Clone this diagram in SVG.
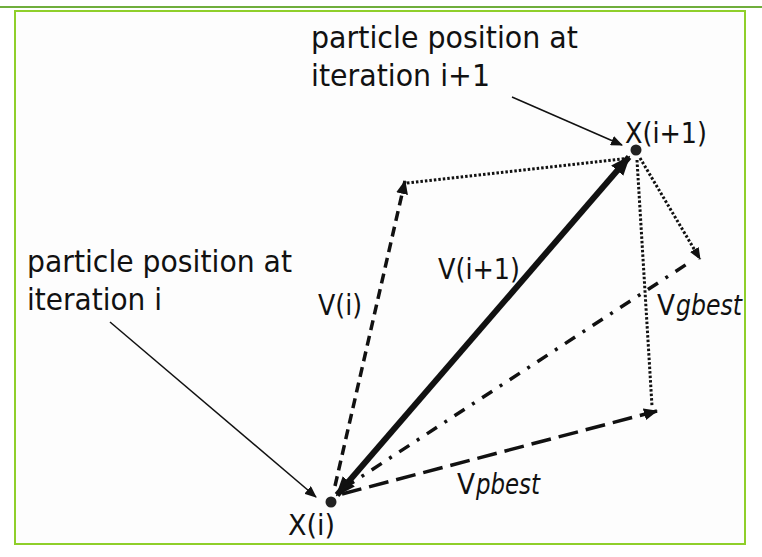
<svg xmlns="http://www.w3.org/2000/svg" width="762" height="557" viewBox="0 0 762 557">
  <style>
    .lbl { font-family: "DejaVu Sans", "Liberation Sans", sans-serif; font-size: 30px; fill: #111; }
    .sym { font-family: "DejaVu Sans", "Liberation Sans", sans-serif; font-size: 28px; fill: #111; }
    .it { font-style: italic; }
    .ln { fill: none; stroke: #111; }
    .dt { fill: none; stroke: #111; stroke-width: 3; stroke-dasharray: 2.5 2; }
    .dot { fill: #222; }
  </style>
  <defs>
    <marker id="ah" markerUnits="userSpaceOnUse" markerWidth="14" markerHeight="12" refX="13" refY="6" orient="auto">
      <path d="M0,0 L14,6 L0,12 Z" fill="#111"/>
    </marker>
    <marker id="ahs" markerUnits="userSpaceOnUse" markerWidth="12" markerHeight="10" refX="11" refY="5" orient="auto">
      <path d="M0,0 L12,5 L0,10 Z" fill="#111"/>
    </marker>
    <marker id="ahb" markerUnits="userSpaceOnUse" markerWidth="20" markerHeight="16" refX="18" refY="8" orient="auto">
      <path d="M0,0 L20,8 L0,16 Z" fill="#111"/>
    </marker>
    <marker id="ahbs" markerUnits="userSpaceOnUse" markerWidth="20" markerHeight="16" refX="2" refY="8" orient="auto">
      <path d="M20,0 L0,8 L20,16 Z" fill="#111"/>
    </marker>
  </defs>

  <rect x="0" y="0" width="762" height="557" fill="#ffffff"/>
  <line x1="0" y1="7" x2="762" y2="7" stroke="#6fae3c" stroke-width="2"/>
  <rect x="15" y="11" width="730" height="533" fill="#fdfdfd" stroke="#8fcf2a" stroke-width="2"/>

  <g id="connectors">
    <line class="ln" x1="512" y1="97" x2="622" y2="145" stroke-width="1.5" marker-end="url(#ahs)"/>
    <line class="ln" x1="110" y1="322" x2="316" y2="497" stroke-width="1.5" marker-end="url(#ahs)"/>
    <line class="ln" x1="335" y1="486" x2="405" y2="181" stroke-width="3.5" stroke-dasharray="10 6" marker-end="url(#ah)"/>
    <line class="dt" x1="407" y1="183" x2="630" y2="158"/>
    <line class="ln" x1="337" y1="495" x2="629" y2="157" stroke-width="6" marker-end="url(#ahb)" marker-start="url(#ahbs)"/>
    <line class="ln" x1="342" y1="494" x2="657" y2="411" stroke-width="3.5" stroke-dasharray="20 8" marker-end="url(#ah)"/>
    <line class="ln" x1="344" y1="488" x2="690" y2="262" stroke-width="3.5" stroke-dasharray="12 9 3 9"/>
    <line class="dt" x1="637" y1="160" x2="652" y2="406"/>
    <line class="dt" x1="640" y1="158" x2="700" y2="259" marker-end="url(#ahs)"/>
  </g>

  <g id="node-xi">
    <circle class="dot" cx="331" cy="502" r="5.5"/>
    <text class="sym" x="288" y="535" textLength="47" lengthAdjust="spacingAndGlyphs">X(i)</text>
  </g>
  <g id="node-xi1">
    <circle class="dot" cx="636" cy="150" r="5.5"/>
    <text class="sym" x="625" y="143" textLength="82" lengthAdjust="spacingAndGlyphs">X(i+1)</text>
  </g>
  <g id="label-top">
    <text class="lbl" x="311" y="48" textLength="267" lengthAdjust="spacingAndGlyphs">particle position at</text>
    <text class="lbl" x="311" y="86" textLength="179" lengthAdjust="spacingAndGlyphs">iteration i+1</text>
  </g>
  <g id="label-left">
    <text class="lbl" x="27" y="272" textLength="265" lengthAdjust="spacingAndGlyphs">particle position at</text>
    <text class="lbl" x="27" y="310" textLength="135" lengthAdjust="spacingAndGlyphs">iteration i</text>
  </g>
  <g id="label-vi">
    <text class="sym" x="318" y="315" textLength="44" lengthAdjust="spacingAndGlyphs">V(i)</text>
  </g>
  <g id="label-vi1">
    <text class="sym" x="438" y="279" textLength="82" lengthAdjust="spacingAndGlyphs">V(i+1)</text>
  </g>
  <g id="label-vgbest">
    <text class="sym" x="657" y="315" textLength="18" lengthAdjust="spacingAndGlyphs">V</text>
    <text class="sym it" x="676" y="315" textLength="66" lengthAdjust="spacingAndGlyphs">gbest</text>
  </g>
  <g id="label-vpbest">
    <text class="sym" x="457" y="494" textLength="18" lengthAdjust="spacingAndGlyphs">V</text>
    <text class="sym it" x="476" y="494" textLength="64" lengthAdjust="spacingAndGlyphs">pbest</text>
  </g>
</svg>
